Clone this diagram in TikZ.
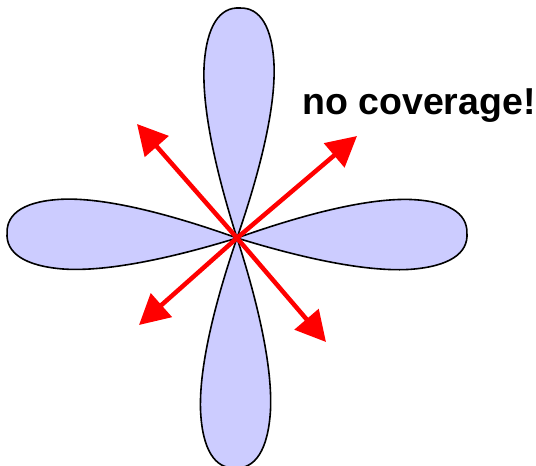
\documentclass[tikz,border=0pt]{standalone}
\usepackage{fontspec}
\setmainfont{Liberation Sans}
\usetikzlibrary{arrows.meta}
\definecolor{FillLobe}{RGB}{204,204,255}
\definecolor{RayRed}{RGB}{255,0,0}

\begin{document}
\begin{tikzpicture}[x=1pt, y=-1pt,
    lobe/.style={draw, line width=1.6pt, fill=FillLobe, line join=round},
    ray/.style={-{Triangle[length=30pt, width=31pt]}, line width=4.5pt, draw=RayRed},
    note/.style={font=\bfseries\fontsize{37.5}{40}\selectfont, anchor=base west, inner sep=0pt}
  ]
  \useasboundingbox (0,0) rectangle (536,466);
  \coordinate (o) at (237,238);
  \foreach \ang in {1.2, 89.3, 178.7, 269.5}
    \draw[lobe, shift={(o)}, rotate=\ang] (0,0)
      .. controls (45,-15) and (120,-37) .. (172,-35)
      .. controls (212,-33) and (231,-20) .. (230,0)
      .. controls (231,20) and (212,33) .. (172,35)
      .. controls (120,37) and (45,15) .. (0,0) -- cycle;
  \coordinate (nw) at (137,124);
  \coordinate (ne) at (357,136);
  \coordinate (sw) at (139,325);
  \coordinate (se) at (326,342);
  \draw[ray] (o) -- (nw);
  \draw[ray] (o) -- (ne);
  \draw[ray] (o) -- (sw);
  \draw[ray] (o) -- (se);
  \node[note] (nocov) at (302,114) {no coverage!};
\end{tikzpicture}
\end{document}
